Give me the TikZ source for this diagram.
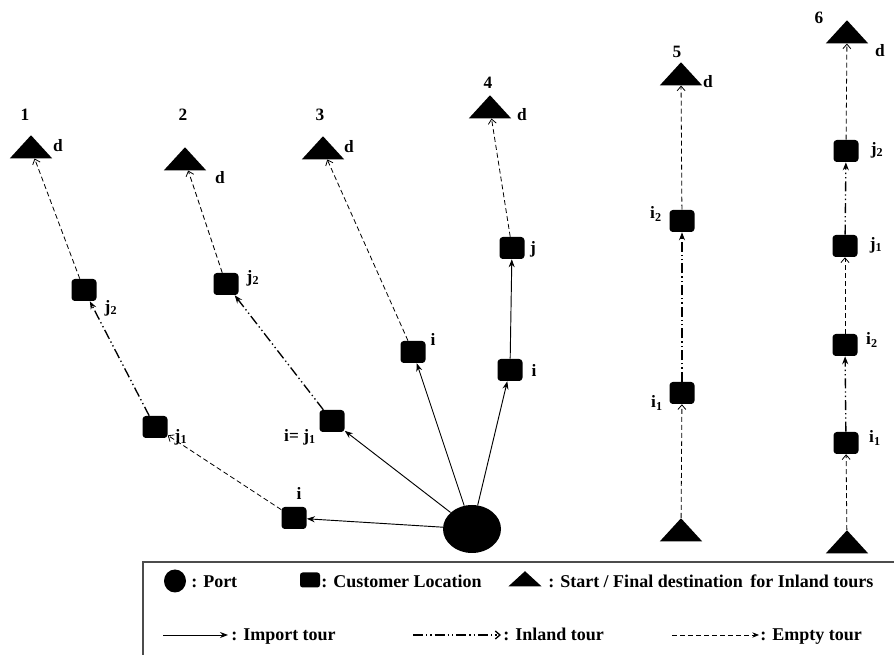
\documentclass[tikz,border=0pt]{standalone}
\usepackage{fontspec}
\setmainfont{Liberation Serif}
\usetikzlibrary{arrows.meta, shapes.geometric}
\tikzset{
  importtour/.style={-{Stealth[length=6pt,width=4.5pt]}, line width=0.7pt},
  inlandtour/.style={-{Stealth[length=6pt,width=4.5pt]}, line width=1pt, dash pattern=on 7.5pt off 2.25pt on 1pt off 2.25pt on 1pt off 2.25pt},
  emptytour/.style={-{Straight Barb[length=3.5pt,width=6pt]}, line width=0.6pt, dash pattern=on 3.75pt off 2.25pt}
}

\begin{document}
\begin{tikzpicture}[x=0.75pt, y=-0.75pt, font=\fontsize{13}{15}\selectfont\bfseries,
  cust/.style={fill=black, rounded corners=2.5pt, minimum width=18.75pt, minimum height=16.5pt, inner sep=0pt},
  dest/.style={isosceles triangle, isosceles triangle apex angle=85, shape border rotate=90, fill=black, inner sep=0pt, minimum height=17.25pt, minimum width=31.5pt},
  port/.style={ellipse, fill=black, minimum width=43.5pt, minimum height=36pt, inner sep=0pt},
  keytext/.style={anchor=base west, inner sep=0pt, font=\fontsize{13.5}{15}\selectfont\bfseries}]
\useasboundingbox (0,0) rectangle (894,655);
\node[port] (port) at (472,529) {};
\node[dest] (d1) at (31,149) {};
\node[dest] (d2) at (185,161) {};
\node[dest] (d3) at (323,150) {};
\node[dest] (d4) at (490,109) {};
\node[dest] (d5) at (681,76) {};
\node[dest] (d6) at (847,34) {};
\node[dest] (s5) at (681,532) {};
\node[dest] (s6) at (847,544) {};
\node[cust] (t1i) at (294,518) {};
\node[cust] (t1j1) at (155,427) {};
\node[cust] (t1j2) at (84,290) {};
\node[cust] (t2ij) at (332,421) {};
\node[cust] (t2j2) at (226,284) {};
\node[cust] (t3i) at (413,352) {};
\node[cust] (t4i) at (510,370) {};
\node[cust] (t4j) at (512,248) {};
\node[cust] (t5i1) at (682,393) {};
\node[cust] (t5i2) at (682,221) {};
\node[cust] (t6i1) at (846,443) {};
\node[cust] (t6i2) at (845,345) {};
\node[cust] (t6j1) at (845,246) {};
\node[cust] (t6j2) at (846,151) {};
\node (n1) at (25,115) {1};
\node (n2) at (183,115) {2};
\node (n3) at (320,115) {3};
\node (n4) at (488,83) {4};
\node (n5) at (677,52) {5};
\node (n6) at (819,18) {6};
\node (ld1) at (58,146) {d};
\node (ld2) at (220,178) {d};
\node (ld3) at (349,147) {d};
\node (ld4) at (522,115) {d};
\node (ld5) at (708,82) {d};
\node (ld6) at (880,51) {d};
\node (lt1i) at (299,493) {i};
\node (lt1j1) at (181,437) {j\textsubscript{1}};
\node (lt1j2) at (111,308) {j\textsubscript{2}};
\node (lt2ij) at (300,437) {i= j\textsubscript{1}};
\node (lt2j2) at (253,278) {j\textsubscript{2}};
\node (lt3i) at (433,339) {i};
\node (lt4i) at (534,370) {i};
\node (lt4j) at (533,249) {j};
\node (lt5i1) at (657,403) {i\textsubscript{1}};
\node (lt5i2) at (656,214) {i\textsubscript{2}};
\node (lt6i1) at (875,438) {i\textsubscript{1}};
\node (lt6i2) at (872,340) {i\textsubscript{2}};
\node (lt6j1) at (876,245) {j\textsubscript{1}};
\node (lt6j2) at (877,150) {j\textsubscript{2}};
\draw [importtour] (port) edge (t1i);
\draw [emptytour] (t1i) edge (t1j1);
\draw [inlandtour] (t1j1) edge (t1j2);
\draw [emptytour] (t1j2) edge (d1);
\draw [importtour] (port) edge (t2ij);
\draw [inlandtour] (t2ij) edge (t2j2);
\draw [emptytour] (t2j2) edge (d2);
\draw [importtour] (port) edge (t3i);
\draw [emptytour] (t3i) edge (d3);
\draw [importtour] (port) edge (t4i);
\draw [importtour] (t4i) edge (t4j);
\draw [emptytour] (t4j) edge (d4);
\draw [emptytour] (s5) edge (t5i1);
\draw [inlandtour] (t5i1) edge (t5i2);
\draw [emptytour] (t5i2) edge (d5);
\draw [emptytour] (s6) edge (t6i1);
\draw [inlandtour] (t6i1) edge (t6i2);
\draw [emptytour] (t6i2) edge (t6j1);
\draw [inlandtour] (t6j1) edge (t6j2);
\draw [emptytour] (t6j2) edge (d6);
\draw [line width=1pt, black!70] (894,562) -| (143,655);
\node[port, minimum width=16.5pt, minimum height=17.25pt] (kport) at (175,581) {};
\node[keytext] (tport) at (191,588) {: Port};
\node[cust, minimum width=15pt, minimum height=11.25pt, rounded corners=2pt] (kcust) at (310,580) {};
\node[keytext] (tcust) at (321,588) {: Customer Location};
\node[dest, isosceles triangle apex angle=95, minimum height=11.25pt, minimum width=25pt] (kdest) at (525,580) {};
\node[keytext] (tdest) at (548,588) {: Start / Final destination\, for Inland tours};
\coordinate (ka1) at (163,635);
\coordinate (ka2) at (228,635);
\coordinate (kb1) at (413,635);
\coordinate (kb2) at (501,635);
\coordinate (kc1) at (672,635);
\coordinate (kc2) at (759,635);
\draw [importtour] (ka1) -- (ka2);
\draw [inlandtour, -{Straight Barb[length=3.5pt,width=6pt]}] (kb1) -- (kb2);
\draw [emptytour, -{Stealth[length=5pt,width=4pt]}] (kc1) -- (kc2);
\node[keytext] (timport) at (231,641) {: Import tour};
\node[keytext] (tinland) at (503,641) {: Inland tour};
\node[keytext] (tempty) at (760,641) {: Empty tour};
\end{tikzpicture}
\end{document}
